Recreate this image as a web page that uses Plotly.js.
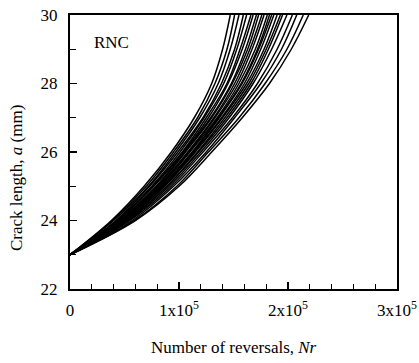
<!DOCTYPE html>
<html>
<head>
<meta charset="utf-8">
<script src="https://cdn.plot.ly/plotly-3.0.1.min.js"></script>
<style>html,body{margin:0;padding:0;background:#fff;}#chart{width:419px;height:363px;}</style>
</head>
<body>
<div id="chart"></div>
<script>
// Crack length grid (mm)
const crackLength = [23, 24, 25, 26, 27, 28, 29, 30];
// Number of reversals for each specimen curve (units of 1e5)
const curve01 = [0, 0.38, 0.68, 0.93, 1.14, 1.30, 1.40, 1.47];
const curve02 = [0, 0.39, 0.70, 0.95, 1.17, 1.33, 1.44, 1.51];
const curve03 = [0, 0.40, 0.72, 0.97, 1.19, 1.36, 1.47, 1.55];
const curve04 = [0, 0.42, 0.73, 0.99, 1.22, 1.39, 1.51, 1.59];
const curve05 = [0, 0.43, 0.75, 1.01, 1.23, 1.41, 1.53, 1.62];
const curve06 = [0, 0.44, 0.76, 1.03, 1.25, 1.44, 1.56, 1.66];
const curve07 = [0, 0.44, 0.77, 1.04, 1.27, 1.45, 1.58, 1.68];
const curve08 = [0, 0.45, 0.79, 1.05, 1.29, 1.48, 1.61, 1.71];
const curve09 = [0, 0.46, 0.80, 1.06, 1.30, 1.49, 1.63, 1.73];
const curve10 = [0, 0.47, 0.81, 1.08, 1.32, 1.51, 1.65, 1.76];
const curve11 = [0, 0.48, 0.82, 1.09, 1.33, 1.53, 1.67, 1.78];
const curve12 = [0, 0.48, 0.83, 1.10, 1.35, 1.55, 1.70, 1.81];
const curve13 = [0, 0.49, 0.84, 1.12, 1.36, 1.57, 1.72, 1.83];
const curve14 = [0, 0.50, 0.85, 1.13, 1.37, 1.58, 1.73, 1.85];
const curve15 = [0, 0.50, 0.86, 1.14, 1.39, 1.60, 1.75, 1.87];
const curve16 = [0, 0.51, 0.87, 1.15, 1.40, 1.62, 1.78, 1.90];
const curve17 = [0, 0.52, 0.89, 1.17, 1.42, 1.64, 1.80, 1.93];
const curve18 = [0, 0.53, 0.89, 1.18, 1.44, 1.66, 1.82, 1.95];
const curve19 = [0, 0.54, 0.91, 1.20, 1.46, 1.68, 1.85, 1.99];
const curve20 = [0, 0.55, 0.93, 1.22, 1.49, 1.72, 1.90, 2.04];
const curve21 = [0, 0.57, 0.95, 1.25, 1.51, 1.75, 1.94, 2.08];
const curve22 = [0, 0.59, 0.98, 1.27, 1.55, 1.79, 1.99, 2.14];
const curve23 = [0, 0.60, 1.00, 1.30, 1.58, 1.83, 2.03, 2.19];

const xTickVals = [0, 1, 2, 3];
const xTickText = ["0", "1x10<sup>5</sup>", "2x10<sup>5</sup>", "3x10<sup>5</sup>"];
const yTickVals = [22, 24, 26, 28, 30];
const yTickText = ["22", "24", "26", "28", "30"];

const curves = [curve01, curve02, curve03, curve04, curve05, curve06, curve07, curve08,
  curve09, curve10, curve11, curve12, curve13, curve14, curve15, curve16, curve17,
  curve18, curve19, curve20, curve21, curve22, curve23];

const serif = "Liberation Serif, Times New Roman, serif";
const traces = curves.map(c => ({
  x: c, y: crackLength, type: 'scatter', mode: 'lines',
  line: {color: '#000', width: 1.5, shape: 'spline', smoothing: 1},
  hoverinfo: 'skip', showlegend: false
}));

const layout = {
  width: 419, height: 363,
  margin: {l: 70, r: 22, t: 15, b: 74},
  paper_bgcolor: '#fff', plot_bgcolor: '#fff',
  font: {family: serif, size: 17, color: '#000'},
  showlegend: false,
  xaxis: {
    range: [0, 3], tickvals: xTickVals, ticktext: xTickText,
    ticks: 'inside', ticklen: 7, tickwidth: 1.2, tickcolor: '#000',
    minor: {dtick: 0.2, ticks: 'inside', ticklen: 5, tickwidth: 1.2, tickcolor: '#000', showgrid: false},
    showline: true, linecolor: '#000', linewidth: 2, mirror: true,
    showgrid: false, zeroline: false, ticklabelstandoff: 5,
    tickfont: {family: serif, size: 17, color: '#000'}
  },
  yaxis: {
    range: [22, 30], tickvals: yTickVals, ticktext: yTickText,
    ticks: 'inside', ticklen: 7, tickwidth: 1.2, tickcolor: '#000',
    minor: {dtick: 1, ticks: 'inside', ticklen: 6, tickwidth: 1.2, tickcolor: '#000', showgrid: false},
    showline: true, linecolor: '#000', linewidth: 2, mirror: true,
    showgrid: false, zeroline: false, ticklabelstandoff: 7,
    tickfont: {family: serif, size: 17, color: '#000'}
  },
  annotations: [
    {text: 'RNC', xref: 'paper', yref: 'paper', x: 0.067, y: 0.898, xanchor: 'left', yanchor: 'middle',
     showarrow: false, font: {family: serif, size: 17, color: '#000'}},
    {text: 'Crack length, <i>a</i> (mm)', xref: 'paper', yref: 'paper', x: -0.165, y: 0.405,
     xanchor: 'center', yanchor: 'middle', textangle: -90, showarrow: false,
     font: {family: serif, size: 17, color: '#000'}},
    {text: 'Number of reversals, <i>Nr</i>', xref: 'paper', yref: 'paper', x: 0.5, y: -0.215,
     xanchor: 'center', yanchor: 'middle', showarrow: false,
     font: {family: serif, size: 17, color: '#000'}}
  ]
};

Plotly.newPlot('chart', traces, layout, {displayModeBar: false, staticPlot: true});
</script>
</body>
</html>
